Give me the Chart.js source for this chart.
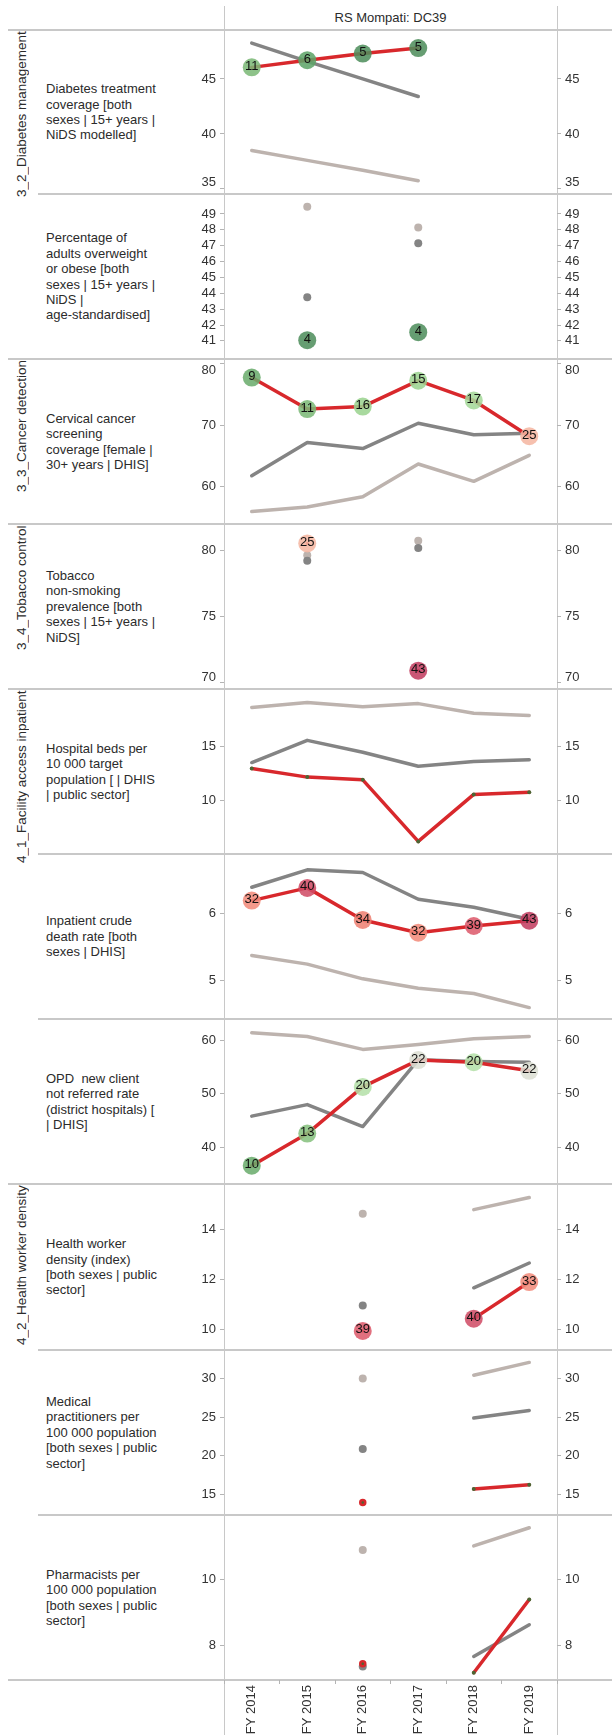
<!DOCTYPE html>
<html>
<head>
<meta charset="utf-8">
<title>RS Mompati: DC39</title>
<script src="https://cdn.jsdelivr.net/npm/chart.js@4.4.1/dist/chart.umd.min.js"></script>
<style>
  html, body { margin: 0; padding: 0; background: #fff; overflow: hidden; }
  body { width: 612px; height: 1735px; position: relative; font-family: 'Liberation Sans', Arial, sans-serif; color: #2b2b2b; }
  .hline { position: absolute; right: 0; height: 2px; background: #c8c8c8; }
  .vline { position: absolute; width: 1px; top: 6px; bottom: 0; background: #c8c8c8; }
  .header { position: absolute; left: 224px; width: 333px; top: 6px; height: 23px; line-height: 23px; text-align: center; font-size: 13px; }
  .measure { position: absolute; left: 46px; width: 150px; display: flex; align-items: center; font-size: 13px; line-height: 15.4px; white-space: pre; }
  .group { position: absolute; left: 14px; width: 18px; writing-mode: vertical-rl; transform: rotate(180deg); text-align: end; font-size: 13.5px; white-space: nowrap; overflow: hidden; }
  .chartbox { position: absolute; left: 168px; width: 444px; }
</style>
</head>
<body>
<div class="header">RS Mompati: DC39</div>
<script>
/* ---------- data ----------------------------------------------- */
const YEARS = ['FY 2014', 'FY 2015', 'FY 2016', 'FY 2017', 'FY 2018', 'FY 2019'];

const DIAB_DISTRICT = [46.05, 46.7, 47.3, 47.8, null, null];
const DIAB_RANK     = [11, 6, 5, 5, null, null];
const DIAB_PROVINCE = [48.25, 46.6, 45.0, 43.4, null, null];
const DIAB_NATIONAL = [38.5, 37.6, 36.7, 35.75, null, null];
const DIAB_TICKS    = [35, 40, 45];

const OBES_DISTRICT = [null, 41.05, null, 41.55, null, null];
const OBES_RANK     = [null, 4, null, 4, null, null];
const OBES_PROVINCE = [null, 43.75, null, 47.15, null, null];
const OBES_NATIONAL = [null, 49.45, null, 48.15, null, null];
const OBES_TICKS    = [41, 42, 43, 44, 45, 46, 47, 48, 49];

const CERV_DISTRICT = [77.7, 72.6, 73.0, 77.2, 74.0, 68.2];
const CERV_RANK     = [9, 11, 16, 15, 17, 25];
const CERV_PROVINCE = [61.8, 67.2, 66.2, 70.3, 68.45, 68.7];
const CERV_NATIONAL = [56.0, 56.75, 58.4, 63.7, 60.9, 65.1];
const CERV_TICKS    = [60, 70, 80];

const TOBA_DISTRICT = [null, 80.5, null, 70.9, null, null];
const TOBA_RANK     = [null, 25, null, 43, null, null];
const TOBA_PROVINCE = [null, 79.2, null, 80.15, null, null];
const TOBA_NATIONAL = [null, 79.6, null, 80.7, null, null];
const TOBA_TICKS    = [70, 75, 80];

const BEDS_DISTRICT = [13.0, 12.2, 11.95, 6.25, 10.6, 10.8];
const BEDS_PROVINCE = [13.55, 15.6, 14.5, 13.2, 13.65, 13.8];
const BEDS_NATIONAL = [18.65, 19.1, 18.7, 19.0, 18.1, 17.9];
const BEDS_TICKS    = [10, 15];

const DEATH_DISTRICT = [6.19, 6.38, 5.9, 5.71, 5.81, 5.89];
const DEATH_RANK     = [32, 40, 34, 32, 39, 43];
const DEATH_PROVINCE = [6.39, 6.65, 6.61, 6.21, 6.09, 5.91];
const DEATH_NATIONAL = [5.37, 5.24, 5.02, 4.88, 4.8, 4.59];
const DEATH_TICKS    = [5, 6];

const OPD_DISTRICT = [36.6, 42.6, 51.3, 56.3, 55.9, 54.3];
const OPD_RANK     = [10, 13, 20, 22, 20, 22];
const OPD_PROVINCE = [45.85, 48.0, 43.9, 56.35, 56.05, 55.9];
const OPD_NATIONAL = [61.4, 60.7, 58.3, 59.2, 60.3, 60.7];
const OPD_TICKS    = [40, 50, 60];

const HWD_DISTRICT = [null, null, 9.94, null, 10.43, 11.89];
const HWD_RANK     = [null, null, 39, null, 40, 33];
const HWD_PROVINCE = [null, null, 10.95, null, 11.66, 12.65];
const HWD_NATIONAL = [null, null, 14.61, null, 14.78, 15.26];
const HWD_TICKS    = [10, 12, 14];

const MED_DISTRICT = [null, null, 13.98, null, 15.74, 16.27];
const MED_PROVINCE = [null, null, 20.9, null, 24.88, 25.86];
const MED_NATIONAL = [null, null, 29.96, null, 30.4, 32.05];
const MED_TICKS    = [15, 20, 25, 30];

const PHARM_DISTRICT = [null, null, 7.46, null, 7.19, 9.4];
const PHARM_PROVINCE = [null, null, 7.38, null, 7.68, 8.64];
const PHARM_NATIONAL = [null, null, 10.9, null, 11.02, 11.57];
const PHARM_TICKS    = [8, 10];

const GROUP_NAMES = ['3_2_Diabetes management', '3_3_Cancer detection', '3_4_Tobacco control',
                     '4_1_Facility access inpatient', '4_2_Health worker density'];
const GROUP_ROWS  = [[0, 2], [2, 3], [3, 4], [4, 7], [7, 10]];

const ROWS = [
  { label: ['Diabetes treatment', 'coverage [both', 'sexes | 15+ years |', 'NiDS modelled]'],
    district: DIAB_DISTRICT, rank: DIAB_RANK, province: DIAB_PROVINCE, national: DIAB_NATIONAL,
    ticks: DIAB_TICKS, min: 34.89, max: 49.1 },
  { label: ['Percentage of', 'adults overweight', 'or obese [both', 'sexes | 15+ years |', 'NiDS |', 'age-standardised]'],
    district: OBES_DISTRICT, rank: OBES_RANK, province: OBES_PROVINCE, national: OBES_NATIONAL,
    ticks: OBES_TICKS, min: 40.1, max: 50.02 },
  { label: ['Cervical cancer', 'screening', 'coverage [female |', '30+ years | DHIS]'],
    district: CERV_DISTRICT, rank: CERV_RANK, province: CERV_PROVINCE, national: CERV_NATIONAL,
    ticks: CERV_TICKS, min: 54.6, max: 80.09 },
  { label: ['Tobacco', 'non-smoking', 'prevalence [both', 'sexes | 15+ years |', 'NiDS]'],
    district: TOBA_DISTRICT, rank: TOBA_RANK, province: TOBA_PROVINCE, national: TOBA_NATIONAL,
    ticks: TOBA_TICKS, min: 69.8, max: 81.68 },
  { label: ['Hospital beds per', '10 000 target', 'population [ | DHIS', '| public sector]'],
    district: BEDS_DISTRICT, rank: null, province: BEDS_PROVINCE, national: BEDS_NATIONAL,
    ticks: BEDS_TICKS, min: 5.44, max: 20.0 },
  { label: ['Inpatient crude', 'death rate [both', 'sexes | DHIS]'],
    district: DEATH_DISTRICT, rank: DEATH_RANK, province: DEATH_PROVINCE, national: DEATH_NATIONAL,
    ticks: DEATH_TICKS, min: 4.476, max: 6.83 },
  { label: ['OPD  new client', 'not referred rate', '(district hospitals) [', '| DHIS]'],
    district: OPD_DISTRICT, rank: OPD_RANK, province: OPD_PROVINCE, national: OPD_NATIONAL,
    ticks: OPD_TICKS, min: 33.9, max: 63.26 },
  { label: ['Health worker', 'density (index)', '[both sexes | public', 'sector]'],
    district: HWD_DISTRICT, rank: HWD_RANK, province: HWD_PROVINCE, national: HWD_NATIONAL,
    ticks: HWD_TICKS, min: 9.33, max: 15.65 },
  { label: ['Medical', 'practitioners per', '100 000 population', '[both sexes | public', 'sector]'],
    district: MED_DISTRICT, rank: null, province: MED_PROVINCE, national: MED_NATIONAL,
    ticks: MED_TICKS, min: 12.87, max: 33.16 },
  { label: ['Pharmacists per', '100 000 population', '[both sexes | public', 'sector]'],
    district: PHARM_DISTRICT, rank: null, province: PHARM_PROVINCE, national: PHARM_NATIONAL,
    ticks: PHARM_TICKS, min: 6.97, max: 11.84 },
];

/* ---------- layout + drawing ----------------------------------- */
(function () {
  'use strict';

  const FONT     = "'Liberation Sans', Arial, sans-serif";
  const RED      = '#d8282c';
  const DARK     = '#848484';
  const LIGHT    = '#bdb3ae';
  const DOT      = '#4c6634';
  const TEXT     = '#333333';
  const TICKLINE = '#b4b4b4';

  // row edges in page pixels (10 panels of ~165px)
  const EDGES  = [30, 194, 359, 524, 689, 854, 1019, 1184, 1350, 1515, 1680];
  const PAGE_H = 1735;
  const PAD    = 8;

  // diverging rank palette: green (low rank) -> neutral -> crimson (high rank)
  const RANK_STOPS = [
    [4, '#4f8e5c'], [6, '#5ea468'], [9, '#6aac6c'], [11, '#7bb977'], [13, '#86c17e'],
    [16, '#9bd38f'], [17, '#a4d898'], [20, '#b4e0a8'], [22, '#dcdfd3'], [25, '#f5b6a2'],
    [32, '#f28b7a'], [34, '#ee8072'], [39, '#dc5a6b'], [40, '#d04c66'], [43, '#c23d60'],
  ];
  function rankColour(r) {
    let best = RANK_STOPS[0];
    RANK_STOPS.forEach(s => { if (Math.abs(s[0] - r) < Math.abs(best[0] - r)) best = s; });
    return best[1] + 'dd';
  }

  function isolated(data, i) {
    return data[i] != null &&
      (i === 0 || data[i - 1] == null) &&
      (i === data.length - 1 || data[i + 1] == null);
  }

  function el(cls, css, html) {
    const d = document.createElement('div');
    d.className = cls;
    Object.assign(d.style, css);
    if (html != null) d.innerHTML = html;
    document.body.appendChild(d);
    return d;
  }

  // frame: vertical axis lines, row separators
  el('vline', { left: '224px' });
  el('vline', { left: '557px' });
  const groupEdges = new Set(GROUP_ROWS.map(g => g[0]).concat([ROWS.length]));
  EDGES.forEach((y, i) => {
    const start = groupEdges.has(i) ? 8 : 38;
    el('hline', { top: (y - 1) + 'px', left: start + 'px' });
  });

  // group headers (rotated, flush to the top of the group)
  GROUP_NAMES.forEach((name, g) => {
    const top = EDGES[GROUP_ROWS[g][0]], bot = EDGES[GROUP_ROWS[g][1]];
    el('group', { top: (top + 1) + 'px', height: (bot - top - 2) + 'px' }, name);
  });

  // measure labels
  ROWS.forEach((row, i) => {
    el('measure', { top: EDGES[i] + 'px', height: (EDGES[i + 1] - EDGES[i]) + 'px' },
      '<span>' + row.label.join('<br>') + '</span>');
  });

  // number of the district's rank drawn inside each circle
  const rankLabels = {
    id: 'rankLabels',
    afterDatasetsDraw(chart) {
      const ctx = chart.ctx;
      chart.data.datasets.forEach((ds, di) => {
        if (!ds.ranks) return;
        const meta = chart.getDatasetMeta(di);
        ctx.save();
        ctx.font = '13px ' + FONT;
        ctx.fillStyle = '#111';
        ctx.textAlign = 'center';
        ctx.textBaseline = 'middle';
        meta.data.forEach((pt, j) => {
          if (ds.ranks[j] == null || ds.data[j] == null) return;
          ctx.fillText(String(ds.ranks[j]), pt.x, pt.y - 1);
        });
        ctx.restore();
      });
    },
  };

  // keep tick labels that sit on a panel edge inside the panel (as Tableau does)
  const keepLabelsInside = {
    id: 'keepLabelsInside',
    beforeDraw(chart) {
      ['y', 'y2'].forEach(id => {
        const s = chart.scales[id];
        if (!s) return;
        s.getLabelItems().forEach(it => {
          const t = it.options.translation;
          const y = Math.min(Math.max(t[1], s.top + 7.5), s.bottom - 7.5);
          it.options.translation = [t[0], y];
        });
      });
    },
  };

  function yAxis(row, position, width) {
    return {
      type: 'linear',
      position,
      min: row.min,
      max: row.max,
      afterBuildTicks: s => { s.ticks = row.ticks.map(v => ({ value: v })); },
      afterFit: s => { s.width = width; },
      grid: { drawOnChartArea: false, drawTicks: true, tickLength: 4, color: TICKLINE },
      border: { display: false },
      ticks: { autoSkip: false, padding: 4, color: TEXT, font: { family: FONT, size: 13 } },
    };
  }

  function greyLine(data, colour, order) {
    return {
      data,
      borderColor: colour,
      backgroundColor: colour,
      borderWidth: 3.5,
      borderCapStyle: 'round',
      borderJoinStyle: 'round',
      pointRadius: c => isolated(data, c.dataIndex) ? 4 : 0,
      pointBackgroundColor: colour,
      pointBorderWidth: 0,
      order,
      clip: false,
    };
  }

  function districtLine(row) {
    const data = row.district, ranks = row.rank;
    return {
      data,
      ranks,
      borderColor: RED,
      backgroundColor: RED,
      borderWidth: 3.5,
      borderCapStyle: 'round',
      borderJoinStyle: 'round',
      pointRadius: c => {
        const j = c.dataIndex;
        if (ranks) return ranks[j] != null ? 9 : 0;
        return isolated(data, j) ? 2.5 : 2;
      },
      pointBackgroundColor: c => (ranks && ranks[c.dataIndex] != null) ? rankColour(ranks[c.dataIndex]) : DOT,
      pointBorderColor: RED,
      pointBorderWidth: c => (!ranks && isolated(data, c.dataIndex)) ? 2.5 : 0,
      order: 0,
      clip: false,
    };
  }

  function makeChart(row, i) {
    const last = i === ROWS.length - 1;
    const top = EDGES[i] - PAD;
    const bottom = last ? PAGE_H : EDGES[i + 1] + PAD;
    const box = el('chartbox', { top: top + 'px', height: (bottom - top) + 'px' });
    const cv = document.createElement('canvas');
    box.appendChild(cv);

    new Chart(cv, {
      type: 'line',
      data: {
        labels: YEARS,
        datasets: [
          greyLine(row.national, LIGHT, 2),
          greyLine(row.province, DARK, 1),
          districtLine(row),
        ],
      },
      options: {
        responsive: true,
        maintainAspectRatio: false,
        animation: false,
        events: [],
        layout: { padding: { top: PAD, bottom: last ? 0 : PAD, left: 0, right: 0 } },
        plugins: { legend: { display: false }, tooltip: { enabled: false } },
        scales: {
          x: {
            type: 'category',
            offset: true,
            display: last,
            afterFit: s => { s.height = last ? 55 : 0; },
            grid: { display: true, drawOnChartArea: false, drawTicks: true, tickLength: 4, offset: true, color: TICKLINE },
            border: { display: false },
            ticks: {
              autoSkip: false, minRotation: 90, maxRotation: 90, padding: 1,
              color: TEXT, font: { family: FONT, size: 13 },
            },
          },
          y: yAxis(row, 'left', 56),
          y2: yAxis(row, 'right', 55),
        },
      },
      plugins: [rankLabels, keepLabelsInside],
    });
  }

  function init() {
    if (typeof Chart === 'undefined') { setTimeout(init, 50); return; }
    ROWS.forEach(makeChart);
  }

  init();
})();
</script>
</body>
</html>
